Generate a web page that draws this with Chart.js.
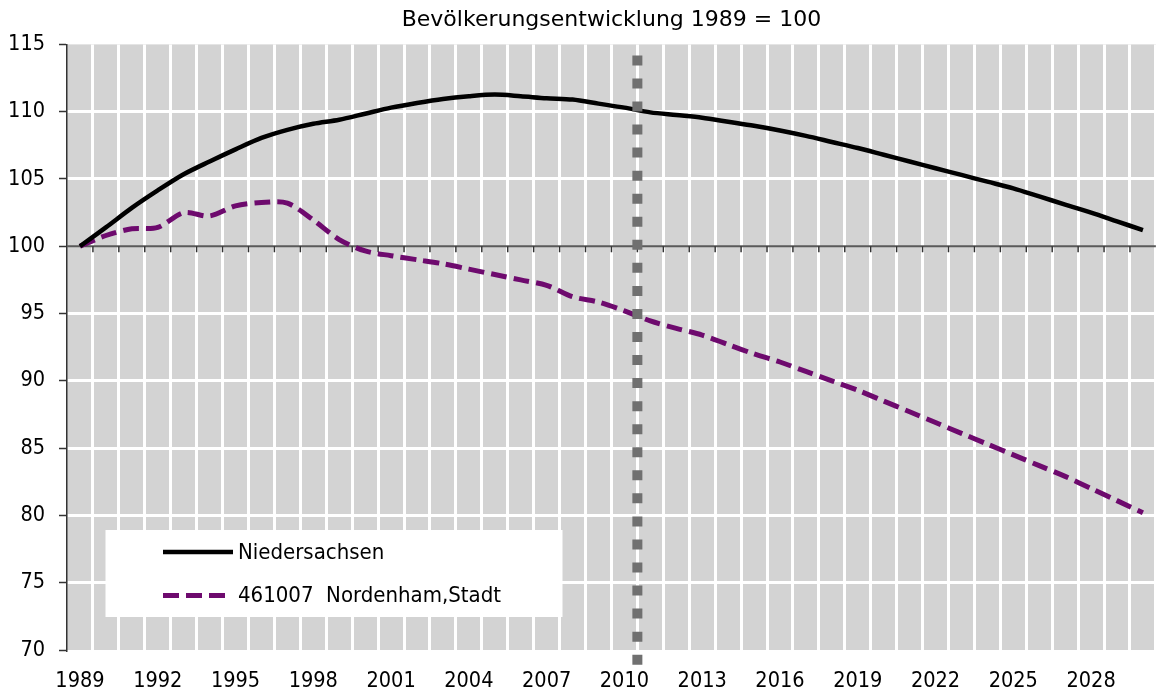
<!DOCTYPE html>
<html lang="de">
<head>
<meta charset="utf-8">
<title>Bevölkerungsentwicklung</title>
<script src="https://cdn.jsdelivr.net/npm/chart.js@4.4.1/dist/chart.umd.min.js"></script>
<style>
  html, body { margin: 0; padding: 0; background: #fff; }
  #wrap { width: 1162px; height: 693px; }
</style>
</head>
<body>
<div id="wrap"><canvas id="chart"></canvas></div>
<script>
const jahre = ['1989', '1990', '1991', '1992', '1993', '1994', '1995', '1996', '1997', '1998',
               '1999', '2000', '2001', '2002', '2003', '2004', '2005', '2006', '2007', '2008',
               '2009', '2010', '2011', '2012', '2013', '2014', '2015', '2016', '2017', '2018',
               '2019', '2020', '2021', '2022', '2023', '2024', '2025', '2026', '2027', '2028',
               '2029', '2030'];

const niedersachsen = [100, 101.4, 102.85, 104.15, 105.35, 106.3, 107.2, 108.05, 108.65, 109.1,
                       109.4, 109.85, 110.3, 110.65, 110.95, 111.15, 111.27, 111.15, 111.0, 110.9,
                       110.6, 110.3, 109.95, 109.75, 109.55, 109.25, 108.95, 108.6, 108.2, 107.75,
                       107.3, 106.8, 106.3, 105.8, 105.3, 104.8, 104.3, 103.7, 103.1, 102.5,
                       101.85, 101.2];

const nordenham = [100, 100.8, 101.3, 101.4, 102.5, 102.25, 103.0, 103.25, 103.2, 101.95,
                   100.5, 99.65, 99.3, 99.0, 98.7, 98.3, 97.9, 97.5, 97.1, 96.25,
                   95.85, 95.2, 94.45, 93.9, 93.4, 92.7, 92.0, 91.4, 90.7, 90.0,
                   89.3, 88.5, 87.7, 86.9, 86.1, 85.3, 84.5, 83.7, 82.9, 82.0,
                   81.1, 80.2];

const yMin = 70;
const yMax = 115;
const yStep = 5;
const basisWert = 100;      // 1989 = 100
const prognoseAb = '2010';  // senkrechte Linie nach diesem Jahr

const schrift = "'DejaVu Sans Condensed', 'DejaVu Sans', sans-serif";
Chart.defaults.font.family = schrift;
Chart.defaults.font.size = 21.5;
Chart.defaults.color = '#000';

// grauer Hintergrund der Zeichenfläche
const hintergrund = {
    id: 'hintergrund',
    beforeDraw(chart) {
        const { ctx, chartArea: a } = chart;
        ctx.save();
        ctx.fillStyle = '#d3d3d3';
        ctx.fillRect(a.left, a.top, a.right - a.left, a.bottom - a.top);
        ctx.restore();
    }
};

// x-Achse liegt bei 100, mit kleinen Strichen zwischen den Jahren
const basisAchse = {
    id: 'basisAchse',
    beforeDatasetsDraw(chart) {
        const { ctx, chartArea: a, scales: { x, y } } = chart;
        const y0 = y.getPixelForValue(basisWert);
        const step = x.getPixelForValue(1) - x.getPixelForValue(0);
        ctx.save();
        ctx.strokeStyle = '#5a5a5a';
        ctx.lineWidth = 2;
        ctx.beginPath();
        ctx.moveTo(a.left, y0);
        ctx.lineTo(a.right, y0);
        ctx.stroke();
        ctx.strokeStyle = '#333';
        ctx.lineWidth = 1.5;
        for (let i = 1; i < jahre.length; i++) {
            const xp = x.getPixelForValue(i) - step / 2;
            ctx.beginPath();
            ctx.moveTo(xp, y0);
            ctx.lineTo(xp, y0 + 6);
            ctx.stroke();
        }
        ctx.restore();
    }
};

// gepunktete Linie + Legendenkasten
const extras = {
    id: 'extras',
    afterDatasetsDraw(chart) {
        const { ctx, chartArea: a, scales: { x } } = chart;
        const step = x.getPixelForValue(1) - x.getPixelForValue(0);
        const xp = x.getPixelForValue(jahre.indexOf(prognoseAb)) + step / 2;
        ctx.save();
        ctx.strokeStyle = '#707070';
        ctx.lineWidth = 10;
        ctx.setLineDash([10, 13.05]);
        ctx.beginPath();
        ctx.moveTo(xp, a.top + 11);
        ctx.lineTo(xp, a.top + 11 + 26 * 23.05 + 10);
        ctx.stroke();
        ctx.restore();

        // Legende
        const bx = a.left + 38.5, by = a.bottom - 120, bw = 457, bh = 87;
        ctx.save();
        ctx.fillStyle = '#fff';
        ctx.fillRect(bx, by, bw, bh);
        ctx.font = '22px ' + schrift;
        ctx.textBaseline = 'middle';
        chart.data.datasets.forEach((ds, i) => {
            const ly = by + 22 + i * 43.5;
            const len = ds.borderDash ? 62 : 70;
            ctx.strokeStyle = ds.borderColor;
            ctx.lineWidth = ds.borderWidth;
            ctx.setLineDash(ds.borderDash || []);
            ctx.beginPath();
            ctx.moveTo(bx + 57.5, ly);
            ctx.lineTo(bx + 57.5 + len, ly);
            ctx.stroke();
            ctx.fillStyle = '#000';
            ctx.fillText(ds.label, bx + 132.5, ly + 1);
        });
        ctx.restore();
    }
};

new Chart(document.getElementById('chart'), {
    type: 'line',
    data: {
        labels: jahre,
        datasets: [{
            label: 'Niedersachsen',
            data: niedersachsen,
            borderColor: '#000',
            borderWidth: 4.5,
            tension: 0.3,
            pointRadius: 0,
            fill: false
        }, {
            label: '461007  Nordenham,Stadt',
            data: nordenham,
            borderColor: '#6e0a6e',
            borderWidth: 5,
            borderDash: [16, 7],
            tension: 0.3,
            pointRadius: 0,
            fill: false
        }]
    },
    options: {
        responsive: true,
        maintainAspectRatio: false,
        animation: false,
        layout: { padding: { left: 0, right: 0, top: 0, bottom: 0 } },
        scales: {
            x: {
                offset: true,
                grid: {
                    offset: true,
                    drawTicks: false,
                    lineWidth: 3,
                    color: c => (c.index === 0 || c.index >= jahre.length) ? 'rgba(0,0,0,0)' : '#fff'
                },
                border: { display: false },
                ticks: {
                    autoSkip: false,
                    maxRotation: 0,
                    padding: 19,
                    callback: (v, i) => i % 3 === 0 ? jahre[i] : ''
                },
                afterFit: s => { s.height = 43; }
            },
            y: {
                min: yMin,
                max: yMax,
                ticks: { stepSize: yStep, padding: 14 },
                grid: {
                    lineWidth: 3,
                    color: c => [yMin, yMax, basisWert].includes(c.tick.value) ? 'rgba(0,0,0,0)' : '#fff',
                    tickColor: '#333',
                    tickLength: 8,
                    tickWidth: 1.5
                },
                border: { display: true, color: '#333', width: 1.5 },
                afterFit: s => { s.width = 67; }
            }
        },
        plugins: {
            legend: { display: false },
            tooltip: { enabled: false },
            title: {
                display: true,
                fullSize: false,
                text: 'Bevölkerungsentwicklung 1989 = 100',
                color: '#000',
                font: { family: "'DejaVu Sans', sans-serif", size: 22, weight: 'normal' },
                padding: { top: 7, bottom: 11 }
            }
        }
    },
    plugins: [hintergrund, basisAchse, extras]
});
</script>
</body>
</html>
